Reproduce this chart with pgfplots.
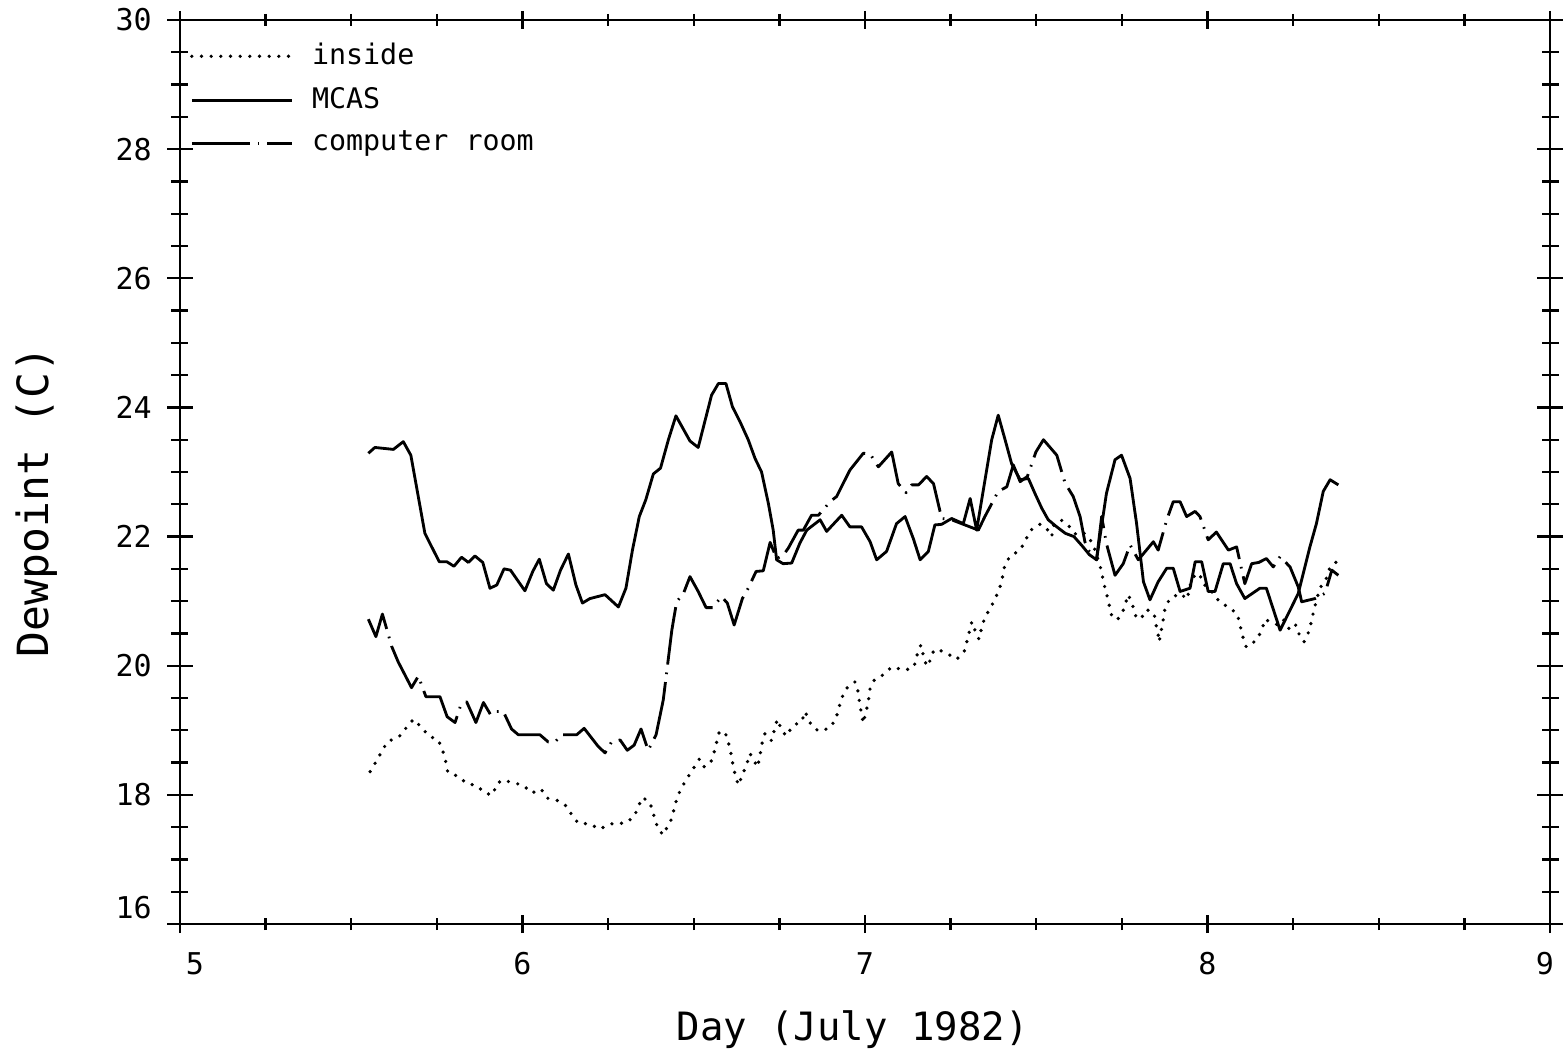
\documentclass[border=0pt]{standalone}
\usepackage{fontspec}
\setmainfont{DejaVu Sans Mono}
\usepackage{pgfplots}
\pgfplotsset{compat=1.18}

\pgfplotsset{
  inside style/.style={line width=1.1pt, line cap=round, dash pattern=on 0pt off 2.9pt},
  mcas style/.style={line width=0.85pt, line join=round},
  room style/.style={line width=0.85pt, line join=round, dash pattern=on 17.4pt off 2.4pt on 0.5pt off 2.4pt},
}

\begin{document}
\begin{tikzpicture}
\begin{axis}[
  scale only axis,
  width=411pt, height=271.2pt,
  xmin=5, xmax=9, ymin=16, ymax=30,
  xtick={5,6,7,8,9},
  xticklabels={\hspace*{9pt}5,6,7,8,9\hspace*{3pt}},
  ytick={16,18,20,22,24,26,28,30},
  yticklabels={\raisebox{5pt}[\height][\depth]{16},18,20,22,24,26,28,30},
  minor x tick num=3,
  minor y tick num=3,
  tick align=center,
  major tick length=5.4pt,
  minor tick length=3.6pt,
  every major y tick/.append style={/pgfplots/major tick length=7.5pt},
  every minor y tick/.append style={/pgfplots/minor tick length=5.1pt},
  tick style={line width=0.7pt, black},
  axis line style={line width=0.8pt},
  /pgf/number format/assume math mode=true,
  tick label style={font=\fontsize{9}{10}\selectfont, inner sep=0pt},
  xticklabel style={anchor=north, yshift=-5.7pt},
  yticklabel style={anchor=east, xshift=-5.6pt},
  xlabel={Day (July 1982)},
  ylabel={Dewpoint (C)},
  xlabel style={font=\fontsize{11.7}{13}\selectfont, at={(axis description cs:0.491,0)}, anchor=center, yshift=-31.8pt},
  ylabel style={font=\fontsize{12.9}{14}\selectfont, at={(axis description cs:0,0.467)}, anchor=center, yshift=43pt},
  legend cell align=left,
  legend image code/.code={\draw[#1] (0pt,0pt) -- (30pt,0pt);},
  legend style={
    at={(rel axis cs:0,1)}, anchor=north west, xshift=3pt, yshift=-4.9pt,
    draw=none, fill=none, inner sep=0pt, outer sep=0pt,
    font=\fontsize{8.5}{10}\selectfont, row sep=1.3pt,
    nodes={inner sep=2pt},
    /tikz/every odd column/.style={column sep=3.5pt},
  },
  clip=false,
]

\addplot[inside style] coordinates {
(5.555,18.36) (5.572,18.51) (5.589,18.67) (5.605,18.82) (5.626,18.87)
(5.647,18.93) (5.664,19.07) (5.682,19.17) (5.704,19.05) (5.727,18.91)
(5.754,18.85) (5.767,18.69) (5.776,18.51) (5.782,18.35) (5.810,18.29)
(5.837,18.18) (5.866,18.14) (5.893,18.02) (5.913,18.00) (5.925,18.17)
(5.941,18.23) (5.971,18.19) (6.001,18.15) (6.028,18.03) (6.054,18.09)
(6.072,17.95) (6.103,17.91) (6.127,17.83) (6.144,17.69) (6.163,17.56)
(6.197,17.55) (6.224,17.47) (6.265,17.56) (6.299,17.56) (6.326,17.66)
(6.338,17.82) (6.351,17.96) (6.372,17.88) (6.382,17.71) (6.394,17.50)
(6.410,17.38) (6.433,17.60) (6.442,17.77) (6.450,17.93) (6.462,18.09)
(6.481,18.26) (6.499,18.41) (6.516,18.55) (6.528,18.43) (6.549,18.49)
(6.559,18.65) (6.567,18.82) (6.575,18.99) (6.594,18.93) (6.604,18.76)
(6.611,18.58) (6.616,18.41) (6.630,18.15) (6.655,18.48) (6.664,18.64)
(6.676,18.53) (6.686,18.43) (6.693,18.59) (6.698,18.77) (6.708,18.95)
(6.727,18.84) (6.744,19.17) (6.754,19.04) (6.769,18.91) (6.791,19.08)
(6.815,19.13) (6.825,19.29) (6.844,19.07) (6.864,18.99) (6.896,19.03)
(6.915,19.17) (6.922,19.32) (6.932,19.50) (6.946,19.65) (6.971,19.75)
(6.981,19.58) (6.984,19.42) (6.990,19.25) (6.995,19.11) (7.003,19.29)
(7.010,19.44) (7.013,19.62) (7.026,19.77) (7.053,19.86) (7.078,19.98)
(7.117,19.93) (7.143,19.98) (7.151,20.15) (7.163,20.32) (7.170,20.17)
(7.180,19.99) (7.190,20.08) (7.201,20.24) (7.214,20.25) (7.243,20.18)
(7.268,20.10) (7.292,20.24) (7.299,20.41) (7.312,20.68) (7.324,20.51)
(7.333,20.41) (7.340,20.58) (7.350,20.75) (7.367,20.90) (7.382,21.06)
(7.394,21.22) (7.402,21.39) (7.409,21.58) (7.425,21.70) (7.453,21.79)
(7.470,21.96) (7.484,22.10) (7.511,22.19) (7.530,22.13) (7.545,22.00)
(7.552,22.19) (7.574,22.25) (7.598,22.15) (7.618,22.02) (7.640,22.05)
(7.665,21.90) (7.691,21.46) (7.696,21.30) (7.705,21.12) (7.720,20.78)
(7.737,20.71) (7.754,20.86) (7.769,21.10) (7.781,20.94) (7.791,20.76)
(7.805,20.72) (7.822,20.87) (7.844,20.81) (7.850,20.63) (7.856,20.48)
(7.859,20.37) (7.871,20.72) (7.876,20.89) (7.890,21.04) (7.920,21.12)
(7.941,21.03) (7.947,21.20) (7.957,21.37) (7.976,21.43) (7.988,21.27)
(8.017,21.12) (8.036,20.98) (8.064,20.90) (8.087,20.80) (8.095,20.63)
(8.103,20.45) (8.113,20.29) (8.142,20.39) (8.158,20.54) (8.168,20.72)
(8.185,20.67) (8.207,20.63) (8.222,20.71) (8.241,20.55) (8.258,20.63)
(8.268,20.48) (8.282,20.37) (8.296,20.53) (8.304,20.70) (8.311,20.87)
(8.328,21.20) (8.346,21.34) (8.358,21.53) (8.377,21.61)
};
\addlegendentry{inside}

\addplot[mcas style] coordinates {
(5.550,23.29) (5.569,23.38) (5.623,23.35) (5.652,23.47) (5.674,23.26)
(5.715,22.05) (5.735,21.84) (5.757,21.61) (5.779,21.61) (5.800,21.54)
(5.822,21.68) (5.842,21.60) (5.861,21.70) (5.884,21.60) (5.905,21.20)
(5.925,21.25) (5.946,21.50) (5.965,21.48) (6.007,21.16) (6.030,21.46)
(6.049,21.65) (6.070,21.27) (6.090,21.17) (6.111,21.48) (6.134,21.73)
(6.156,21.25) (6.175,20.97) (6.197,21.04) (6.241,21.10) (6.280,20.91)
(6.302,21.20) (6.321,21.79) (6.341,22.31) (6.360,22.57) (6.382,22.97)
(6.403,23.06) (6.426,23.50) (6.448,23.87) (6.489,23.48) (6.513,23.38)
(6.552,24.19) (6.572,24.37) (6.594,24.37) (6.613,24.01) (6.635,23.78)
(6.659,23.50) (6.679,23.21) (6.698,23.00) (6.718,22.51) (6.732,22.10)
(6.742,21.64) (6.761,21.58) (6.786,21.59) (6.810,21.90) (6.830,22.10)
(6.869,22.26) (6.888,22.08) (6.932,22.33) (6.956,22.15) (6.990,22.15)
(7.015,21.92) (7.034,21.64) (7.063,21.77) (7.092,22.20) (7.117,22.31)
(7.141,21.97) (7.161,21.64) (7.185,21.77) (7.204,22.18) (7.224,22.19)
(7.253,22.28) (7.287,22.20) (7.307,22.59) (7.326,22.10) (7.370,23.50)
(7.389,23.88) (7.409,23.50) (7.428,23.13) (7.453,22.88) (7.477,22.90)
(7.496,22.67) (7.516,22.44) (7.535,22.26) (7.560,22.15) (7.585,22.05)
(7.610,22.00) (7.635,21.85) (7.655,21.72) (7.676,21.64) (7.705,22.67)
(7.730,23.19) (7.749,23.26) (7.774,22.90) (7.793,22.20) (7.813,21.30)
(7.832,21.02) (7.856,21.30) (7.881,21.51) (7.900,21.51) (7.920,21.15)
(7.949,21.20) (7.964,21.61) (7.983,21.61) (8.002,21.15) (8.022,21.15)
(8.046,21.58) (8.066,21.58) (8.085,21.27) (8.109,21.04) (8.153,21.20)
(8.172,21.20) (8.212,20.55) (8.241,20.86) (8.265,21.12) (8.299,21.84)
(8.318,22.20) (8.338,22.70) (8.358,22.88) (8.382,22.80)
};
\addlegendentry{MCAS}

\addplot[room style] coordinates {
(5.550,20.72) (5.572,20.45) (5.591,20.80) (5.618,20.30) (5.637,20.06)
(5.676,19.66) (5.696,19.84) (5.718,19.52) (5.759,19.52) (5.780,19.21)
(5.803,19.12) (5.819,19.38) (5.837,19.44) (5.864,19.12) (5.886,19.43)
(5.907,19.24) (5.920,19.29) (5.944,19.29) (5.968,19.02) (5.988,18.93)
(6.051,18.93) (6.075,18.82) (6.095,18.82) (6.114,18.93) (6.158,18.93)
(6.180,19.03) (6.221,18.75) (6.241,18.65) (6.260,18.82) (6.285,18.85)
(6.306,18.69) (6.326,18.77) (6.346,19.02) (6.367,18.69) (6.390,18.93)
(6.411,19.47) (6.436,20.55) (6.450,20.99) (6.470,21.12) (6.489,21.38)
(6.513,21.15) (6.536,20.90) (6.555,20.90) (6.581,21.07) (6.598,20.97)
(6.618,20.63) (6.642,21.04) (6.659,21.20) (6.682,21.46) (6.703,21.47)
(6.723,21.91) (6.742,21.66) (6.761,21.71) (6.776,21.82) (6.805,22.10)
(6.820,22.10) (6.844,22.33) (6.864,22.33) (6.898,22.54) (6.917,22.62)
(6.956,23.03) (6.995,23.29) (7.015,23.28) (7.039,23.08) (7.078,23.31)
(7.097,22.82) (7.120,22.68) (7.136,22.80) (7.156,22.80) (7.180,22.93)
(7.200,22.82) (7.224,22.28) (7.253,22.26) (7.287,22.19) (7.331,22.10)
(7.350,22.31) (7.389,22.70) (7.414,22.77) (7.433,23.11) (7.453,22.85)
(7.474,22.93) (7.499,23.31) (7.521,23.50) (7.560,23.26) (7.584,22.83)
(7.608,22.62) (7.628,22.31) (7.642,21.92) (7.652,21.79) (7.676,21.64)
(7.691,22.31) (7.705,21.89) (7.730,21.40) (7.754,21.58) (7.774,21.87)
(7.798,21.64) (7.842,21.92) (7.856,21.79) (7.881,22.26) (7.900,22.54)
(7.920,22.54) (7.939,22.31) (7.964,22.39) (7.978,22.31) (8.002,21.95)
(8.026,22.07) (8.061,21.79) (8.085,21.84) (8.109,21.27) (8.129,21.58)
(8.150,21.60) (8.172,21.66) (8.192,21.53) (8.212,21.69) (8.241,21.53)
(8.265,21.22) (8.275,20.99) (8.314,21.04) (8.343,21.12) (8.363,21.48)
(8.382,21.40)
};
\addlegendentry{computer room}

\coordinate (bl) at (rel axis cs:0,0);
\coordinate (tr) at (rel axis cs:1,1);
\end{axis}
\pgfresetboundingbox
\path[use as bounding box] ([shift={(-54pt,-41.4pt)}]bl) rectangle ([shift={(4.2pt,6pt)}]tr);
\end{tikzpicture}
\end{document}
